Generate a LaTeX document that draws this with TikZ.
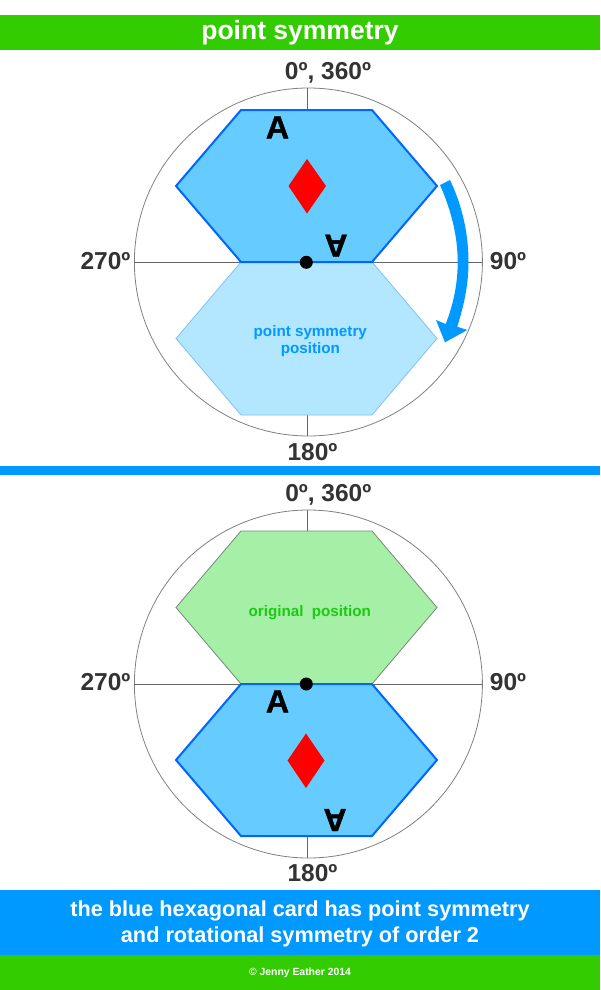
\documentclass[tikz,border=0pt]{standalone}
\usepackage{fontspec}
\setmainfont{Liberation Sans}
\newfontfamily\heavyA[FakeBold=1.2]{Liberation Sans Bold}
\definecolor{barG}{HTML}{33CC00}
\definecolor{barB}{HTML}{0099FF}
\definecolor{cardF}{HTML}{66CCFF}
\definecolor{cardE}{HTML}{0066FF}
\definecolor{paleF}{HTML}{B3E6FF}
\definecolor{paleE}{HTML}{80BFFF}
\definecolor{grnF}{HTML}{A6EFA6}
\definecolor{grnE}{HTML}{778877}
\definecolor{grnT}{HTML}{18CC10}
\definecolor{deg}{HTML}{333333}
\definecolor{ruleC}{HTML}{666666}
\definecolor{ringC}{HTML}{808080}
\tikzset{
  x=1pt,y=-1pt,
  txt/.style={inner sep=0pt,anchor=base,align=center,font=\bfseries},
  degl/.style={txt,text=deg,font=\bfseries\fontsize{24.5}{26}\selectfont},
  smalll/.style={txt,font=\bfseries\fontsize{15.2}{18}\selectfont},
  footl/.style={txt,text=white,font=\bfseries\fontsize{21.7}{24}\selectfont},
  bigA/.style={inner sep=0pt,anchor=center,font=\heavyA\fontsize{32}{32}\selectfont,text=black},
  axisl/.style={draw=ruleC,line width=0.8pt},
  ring/.style={draw=ringC,line width=0.8pt},
  card/.style={fill=cardF,draw=cardE,line width=2pt,line join=miter},
  pale/.style={fill=paleF,draw=paleE,line width=0.8pt},
  grn/.style={fill=grnF,draw=grnE,line width=0.8pt},
  pip/.style={fill=red},
  pivot/.style={fill=black},
}
\newcommand{\dial}[1]{%
  \draw[ring] (308.4,#1) circle (174pt);
  \draw[axisl] (134.4,#1+0.4) -- (482.4,#1+0.4);
  \draw[axisl] (307.2,#1-174) -- (307.2,#1+174);}
\newcommand{\hexa}[3]{% style, top y, mid y ; bottom y computed
  \path[#1] (241,#2) -- (372,#2) -- (437,#3) -- (372,{2*#3-#2}) -- (241,{2*#3-#2}) -- (176,#3) -- cycle;}
\begin{document}
\begin{tikzpicture}
\useasboundingbox (0,0) rectangle (600,990);
\fill[barG] (0,15) rectangle (600,50);
\fill[barB] (0,465.5) rectangle (600,475);
\fill[barB] (0,890) rectangle (600,955);
\fill[barG] (0,955) rectangle (600,990);
\node[txt,text=white,font=\bfseries\fontsize{26.5}{30}\selectfont] (title) at (300,39.5) {point symmetry};

% upper dial
\dial{262}
\hexa{pale}{262}{338.5}
\hexa{card}{110}{186}
\path[pip] (307,159) -- (326,186) -- (307,213.5) -- (288.5,186) -- cycle;
\node[bigA] (a1) at (277.5,127.3) {A};
\node[bigA,rotate=180] (a2) at (336,245.7) {A};
\fill[pivot] (306.3,262.3) circle (6.5pt);
\node[smalll,text=barB] (ps1) at (310.3,336.7) {point symmetry};
\node[smalll,text=barB] (ps2) at (310.3,353.3) {position};
\fill[barB] (440,185) -- (450,180)
  .. controls (463,207) and (468.5,236) .. (468.5,262)
  .. controls (468.5,285) and (464,305) .. (457.3,326.7)
  -- (467.3,330) -- (445,342.3) -- (436,320) -- (445.7,324)
  .. controls (453,305) and (457.7,285) .. (457.7,262)
  .. controls (457.7,238) and (452,212) .. cycle;
\node[degl] (u0) at (328,79) {0º, 360º};
\node[degl] (u270) at (105.5,269) {270º};
\node[degl] (u90) at (508,269) {90º};
\node[degl] (u180) at (312.5,460) {180º};

% lower dial
\dial{684}
\hexa{grn}{531}{607.5}
\hexa{card}{684}{760}
\path[pip] (306,733.5) -- (324.5,760.5) -- (306,788) -- (287.5,760.5) -- cycle;
\node[bigA] (a3) at (277.5,701.3) {A};
\node[bigA,rotate=180] (a4) at (335,820) {A};
\fill[pivot] (306.3,684) circle (6.5pt);
\node[smalll,text=grnT] (op) at (309.8,616) {original\ \ position};
\node[degl] (l0) at (328.3,501) {0º, 360º};
\node[degl] (l270) at (105.5,690) {270º};
\node[degl] (l90) at (508,690) {90º};
\node[degl] (l180) at (312.5,881) {180º};

\node[footl] (f1) at (300,916) {the blue hexagonal card has point symmetry};
\node[footl] (f2) at (300,942) {and rotational symmetry of order 2};
\node[txt,text=white,font=\bfseries\fontsize{10.4}{12}\selectfont] (cr) at (300,975.7) {© Jenny Eather 2014};
\end{tikzpicture}
\end{document}
